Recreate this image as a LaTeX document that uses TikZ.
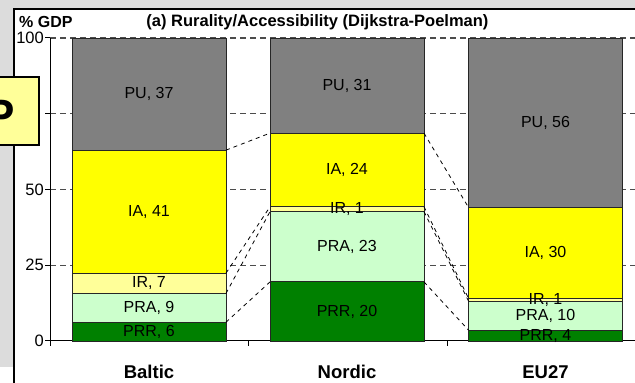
\documentclass[tikz,border=0pt]{standalone}
\usepackage{fontspec}
\setmainfont{Liberation Sans}
\usetikzlibrary{positioning}

\definecolor{bgGray}{HTML}{DCDCDC}
\definecolor{puGray}{HTML}{808080}
\definecolor{iaYellow}{HTML}{FFFF00}
\definecolor{irYellow}{HTML}{FFFF99}
\definecolor{praGreen}{HTML}{CCFFCC}
\definecolor{prrGreen}{HTML}{008000}

\begin{document}
\begin{tikzpicture}[
  x=1pt,
  y=1pt,
  seg/.style={draw=black!85, line width=0.9pt, minimum width=154pt, inner sep=0pt, outer sep=0pt},
  lbl/.style={font=\fontsize{16}{18}\selectfont, inner sep=0pt},
  ticklbl/.style={font=\fontsize{16.5}{18}\selectfont, anchor=east, inner sep=0pt},
  cat/.style={font=\bfseries\fontsize{18.5}{20}\selectfont, inner sep=0pt},
  gridln/.style={draw=black!70, line width=1.2pt, dash pattern=on 6pt off 4pt},
  series/.style={line width=0.8pt, dash pattern=on 4pt off 4pt},
  axis/.style={line width=1pt}
]
  \useasboundingbox (0,0) rectangle (635,383);
  \clip (0,0) rectangle (635,383);

  % background and chart area
  \fill[white] (0,0) rectangle (635,383);
  \fill[bgGray] (0,16) rectangle (635,383);
  \draw[line width=1.5pt, fill=white] (14,-10) rectangle (660,374);

  \node[font=\bfseries\fontsize{16}{18}\selectfont, anchor=west, inner sep=0pt] (ylab) at (19,361) {\% GDP};
  \node[font=\bfseries\fontsize{16.5}{18}\selectfont, inner sep=0pt] (title) at (317.5,361) {(a) Rurality/Accessibility (Dijkstra-Poelman)};

  \begin{scope}[shift={(0,42)}, y=3.03pt]
    \draw[gridln] (50,25) -- (640,25);
    \draw[gridln] (50,50) -- (640,50);
    \draw[gridln] (50,75) -- (640,75);
    \draw[gridln] (50,100) -- (640,100);

    \draw[axis] (50,0) -- (50,100);
    \draw[axis] (50,0) -- (640,0);
    \draw[axis] (45,0) -- (50,0);
    \draw[axis] (45,25) -- (50,25);
    \draw[axis] (45,50) -- (50,50);
    \draw[axis] (45,75) -- (50,75);
    \draw[axis] (45,100) -- (50,100);
    \draw[axis] (50,0) -- ++(0,-5pt);
    \draw[axis] (248.5,0) -- ++(0,-5pt);
    \draw[axis] (447,0) -- ++(0,-5pt);

    \node[ticklbl] (t0) at (44,0) {0};
    \node[ticklbl] (t25) at (44,25) {25};
    \node[ticklbl] (t50) at (44,50) {50};
    \node[ticklbl] (t100) at (44,100) {100};

    % Baltic
    \node[seg, fill=prrGreen, minimum height=6.2*3.03pt, anchor=south west] (bPRR) at (72,0) {};
    \node[seg, fill=praGreen, minimum height=9.5*3.03pt, above=0pt of bPRR] (bPRA) {};
    \node[seg, fill=irYellow, minimum height=6.7*3.03pt, above=0pt of bPRA] (bIR) {};
    \node[seg, fill=iaYellow, minimum height=40.6*3.03pt, above=0pt of bIR] (bIA) {};
    \node[seg, fill=puGray, minimum height=37*3.03pt, above=0pt of bIA] (bPU) {};

    % Nordic
    \node[seg, fill=prrGreen, minimum height=19.5*3.03pt, anchor=south west] (nPRR) at (270,0) {};
    \node[seg, fill=praGreen, minimum height=23.2*3.03pt, above=0pt of nPRR] (nPRA) {};
    \node[seg, fill=irYellow, minimum height=1.6*3.03pt, above=0pt of nPRA] (nIR) {};
    \node[seg, fill=iaYellow, minimum height=24.3*3.03pt, above=0pt of nIR] (nIA) {};
    \node[seg, fill=puGray, minimum height=31.4*3.03pt, above=0pt of nIA] (nPU) {};

    % EU27
    \node[seg, fill=prrGreen, minimum height=3.6*3.03pt, anchor=south west] (ePRR) at (468.5,0) {};
    \node[seg, fill=praGreen, minimum height=9.6*3.03pt, above=0pt of ePRR] (ePRA) {};
    \node[seg, fill=irYellow, minimum height=0.9*3.03pt, above=0pt of ePRA] (eIR) {};
    \node[seg, fill=iaYellow, minimum height=30*3.03pt, above=0pt of eIR] (eIA) {};
    \node[seg, fill=puGray, minimum height=55.9*3.03pt, above=0pt of eIA] (ePU) {};

    \draw[series] (bPRR.north east) -- (nPRR.north west);
    \draw[series] (bPRA.north east) -- (nPRA.north west);
    \draw[series] (bIR.north east) -- (nIR.north west);
    \draw[series] (bIA.north east) -- (nIA.north west);
    \draw[series] (nPRR.north east) -- (ePRR.north west);
    \draw[series] (nPRA.north east) -- (ePRA.north west);
    \draw[series] (nIR.north east) -- (eIR.north west);
    \draw[series] (nIA.north east) -- (eIA.north west);

    \node[lbl] (lbPRR) at (bPRR) {PRR, 6};
    \node[lbl] (lbPRA) at (bPRA) {PRA, 9};
    \node[lbl] (lbIR) at (bIR) {IR, 7};
    \node[lbl] (lbIA) at (bIA) {IA, 41};
    \node[lbl] (lbPU) at (bPU) {PU, 37};

    \node[lbl] (lnPRR) at (nPRR) {PRR, 20};
    \node[lbl] (lnPRA) at (nPRA) {PRA, 23};
    \node[lbl] (lnIR) at (nIR) {IR, 1};
    \node[lbl] (lnIA) at (nIA) {IA, 24};
    \node[lbl] (lnPU) at (nPU) {PU, 31};

    \node[lbl] (lePRR) at (ePRR) {PRR, 4};
    \node[lbl] (lePRA) at (ePRA) {PRA, 10};
    \node[lbl] (leIR) at (eIR) {IR, 1};
    \node[lbl] (leIA) at (eIA) {IA, 30};
    \node[lbl] (lePU) at (ePU) {PU, 56};
  \end{scope}

  \node[cat] (cBaltic) at (149,11) {Baltic};
  \node[cat] (cNordic) at (347,11) {Nordic};
  \node[cat] (cEU) at (545.5,11) {EU27};

  % overlapping label box
  \draw[line width=2pt, fill=irYellow] (-5,238) rectangle (39,306);
  \node[font=\bfseries\fontsize{44}{44}\selectfont, anchor=base west, inner sep=0pt] (pLetter) at (-15,252) {P};
\end{tikzpicture}
\end{document}
